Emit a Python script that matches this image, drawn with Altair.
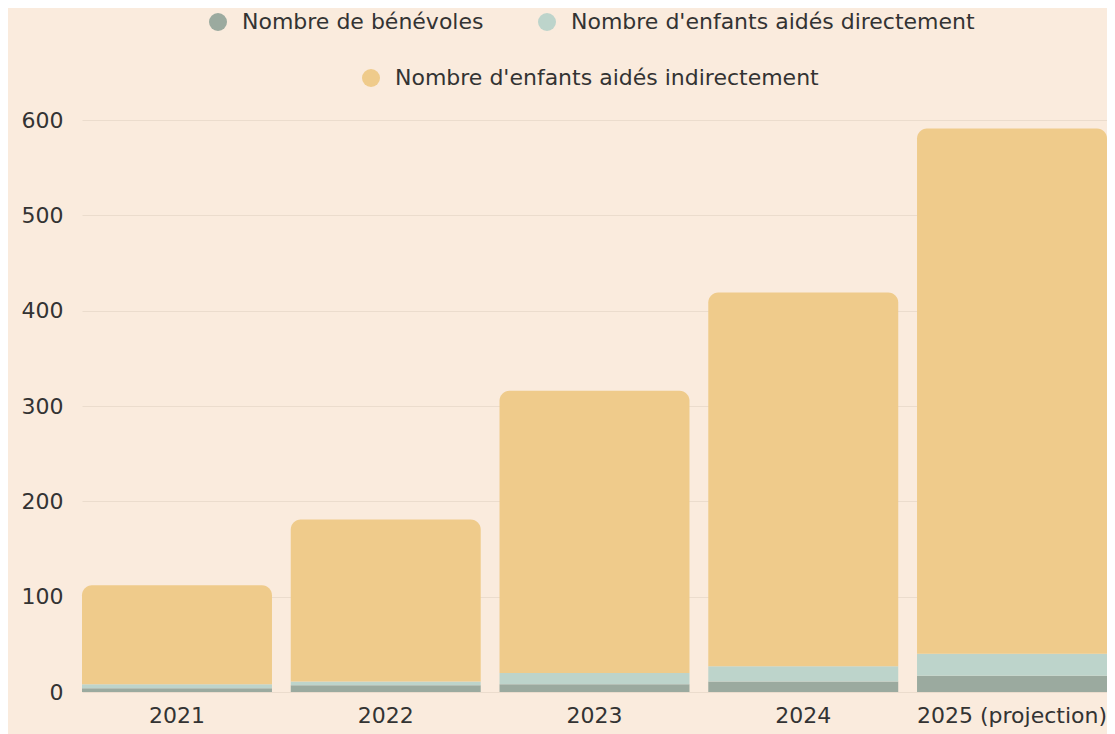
import altair as alt
import pandas as pd

years = ["2021", "2022", "2023", "2024", "2025 (projection)"]
series = ["Nombre de bénévoles", "Nombre d'enfants aidés directement", "Nombre d'enfants aidés indirectement"]
benevoles = [4, 7, 8, 11, 17]
directs = [4, 4, 12, 16, 23]
indirects = [104, 170, 296, 392, 551]
colors = ["#9BAA9F", "#BDD4CB", "#EFCB8B"]

rows = []
for i, y in enumerate(years):
    for j, (s, vals) in enumerate(zip(series, [benevoles, directs, indirects])):
        rows.append({"year": y, "series": s, "value": vals[i], "order": j})
df = pd.DataFrame(rows)

FONT = "DejaVu Sans"
FS = 22

base = alt.Chart(df).transform_stack(
    stack="value", groupby=["year"], as_=["y0", "y1"], sort=[alt.SortField("order")]
)

x_enc = alt.X("year:N", sort=years, title=None,
              scale=alt.Scale(paddingInner=0.09, paddingOuter=0),
              axis=alt.Axis(labelAngle=0, ticks=False, tickSize=0, domain=False,
                            labelPadding=13, labelFontSize=FS, labelColor="#333333",
                            labelFont=FONT, grid=False, labelLimit=400))
y_enc = alt.Y("y0:Q", title=None,
              scale=alt.Scale(domain=[0, 600], nice=False),
              axis=alt.Axis(values=[0, 100, 200, 300, 400, 500, 600], ticks=False, tickSize=0,
                            domain=False, labelPadding=19, labelFontSize=FS,
                            labelColor="#333333", labelFont=FONT,
                            grid=True, gridColor="#EBDCCD", gridWidth=1))

low = base.transform_filter(
    alt.FieldOneOfPredicate(field="series", oneOf=series[:2])
).mark_bar().encode(
    x=x_enc,
    y=y_enc,
    y2="y1:Q",
    color=alt.Color("series:N",
                    scale=alt.Scale(domain=series[:2], range=colors[:2]),
                    legend=alt.Legend(title=None, orient="none", direction="horizontal",
                                      legendX=125, legendY=-109, padding=0,
                                      symbolType="circle", symbolSize=324,
                                      symbolStrokeWidth=0, labelOffset=13,
                                      columnPadding=52, labelFontSize=FS,
                                      labelFont=FONT, labelColor="#333333",
                                      labelLimit=600)),
)

top = base.transform_filter(
    alt.FieldEqualPredicate(field="series", equal=series[2])
).mark_bar(cornerRadiusTopLeft=10, cornerRadiusTopRight=10).encode(
    x=x_enc,
    y=y_enc,
    y2="y1:Q",
    color=alt.Color("series:N",
                    scale=alt.Scale(domain=series[2:], range=colors[2:]),
                    legend=alt.Legend(title=None, orient="none", direction="horizontal",
                                      legendX=278, legendY=-53, padding=0,
                                      symbolType="circle", symbolSize=324,
                                      symbolStrokeWidth=0, labelOffset=13,
                                      labelFontSize=FS, labelFont=FONT,
                                      labelColor="#333333", labelLimit=600)),
)

chart = alt.layer(low, top).resolve_scale(color="independent").properties(
    width=1025,
    height=572,
    background="#FAEBDD",
    padding={"left": 74, "top": 112, "right": 0, "bottom": 42},
    autosize=alt.AutoSizeParams(type="none"),
).configure_view(stroke=None)

chart.save("out.html", embed_options={"renderer": "svg", "actions": False})
